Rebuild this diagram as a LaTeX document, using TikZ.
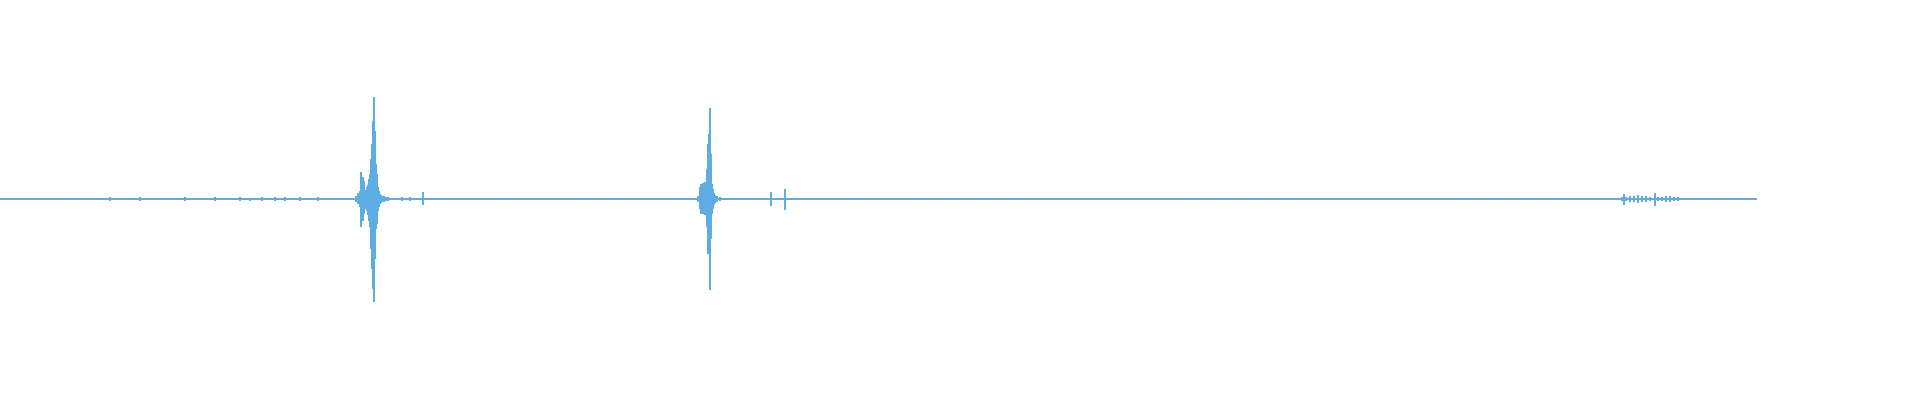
\documentclass[tikz,border=0pt]{standalone}
\usetikzlibrary{math}

\begin{document}
\begin{tikzpicture}[x=0.02cm,y=-0.02cm]

\definecolor{wave}{rgb}{0.365,0.678,0.886}
\tikzset{tick/.style={color=wave,line width=1.3pt}}

\useasboundingbox (0,0) rectangle (1920,400);

% baseline
\draw[color=wave,line width=0.8pt] (0,199)--(1757,199);
\coordinate (base) at (0,199);

% faint noise along the trace
\foreach \x in {4,11,...,1750}{
        \pgfmathsetmacro{\a}{0.4+0.8*abs(sin(\x*5.3))}
        \draw[color=wave,line width=0.5pt] (\x,199-\a)--(\x,199+\a);
}
\foreach \x in {110,140,185,200,215,228,240,250,262,275,285,300,318,330,402,410}{
        \pgfmathsetmacro{\a}{1+1.2*abs(sin(\x*7.1))}
        \draw[color=wave,line width=0.8pt] (\x,199-\a)--(\x,199+\a);
}
\draw[tick] (423,192)--(423,205);

% first burst
\foreach \x/\u/\d in {356/3/3,358/6/5,360/8/8,361/27/28,362/10/12,363/22/22,364/18/15,
        365/9/9,366/8/10,367/12/12,368/14/16,369/20/22,370/25/28,371/40/50,372/55/70,
        373/78/90,374/102/103,375/68/60,376/35/30,377/25/25,378/12/12,379/8/8,380/5/5,
        381/4/4,382/3/3,384/3/3,386/2/2,388/2/2}{
        \draw[tick] (\x,199-\u)--(\x,199+\d);
}

% second burst
\foreach \x/\u/\d in {698/3/3,700/12/10,701/15/15,702/14/12,703/16/15,704/14/14,705/17/16,
        706/15/14,707/30/28,708/55/55,709/65/55,710/91/91,711/45/40,712/15/15,713/10/10,
        714/6/6,715/4/4,717/3/3,720/2/2}{
        \draw[tick] (\x,199-\u)--(\x,199+\d);
}
\draw[tick] (771,192)--(771,206);
\draw[tick] (785,189)--(785,210);

% small burst near the end
\foreach \x in {1598,1602,...,1678}{
        \pgfmathsetmacro{\a}{0.8+4*abs(sin(\x*3.7))*exp(-((\x-1650)/25)^2)}
        \draw[color=wave,line width=1pt] (\x,199-\a)--(\x,199+\a);
}
\draw[tick] (1624,194)--(1624,205);
\draw[tick] (1655,193)--(1655,206);

\end{tikzpicture}
\end{document}
